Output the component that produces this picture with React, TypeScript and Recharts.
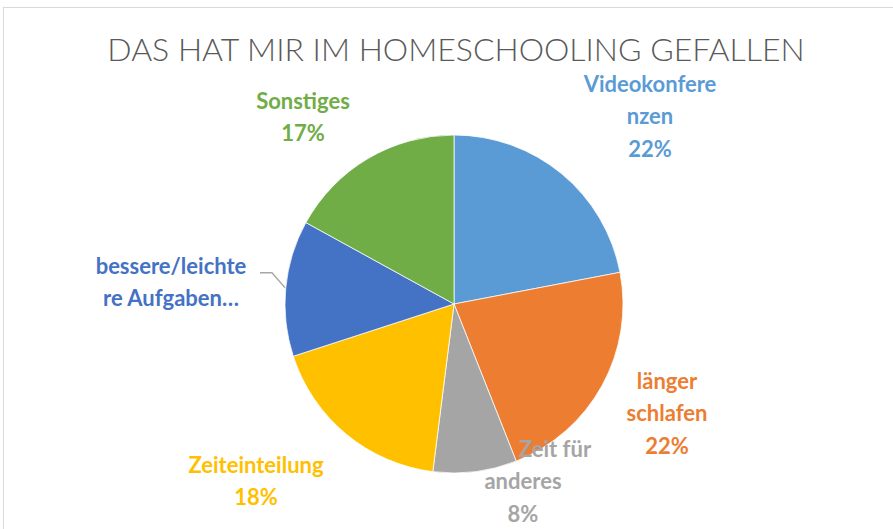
import React from 'react';
import { PieChart, Pie, Cell } from 'recharts';

const categories = [
  'Videokonferenzen',
  'länger schlafen',
  'Zeit für anderes',
  'Zeiteinteilung',
  'bessere/leichtere Aufgaben…',
  'Sonstiges',
];
const shares = [22, 22, 8, 18, 13, 17];
const labelLines = [
  ['Videokonfere', 'nzen'],
  ['länger', 'schlafen'],
  ['Zeit für', 'anderes'],
  ['Zeiteinteilung'],
  ['bessere/leichte', 're Aufgaben…'],
  ['Sonstiges'],
];
// the truncated label shows no percentage in the original
const showPercent = [true, true, true, true, false, true];
const colors = ['#5B9BD5', '#ED7D31', '#A5A5A5', '#FFC000', '#4472C4', '#70AD47'];

// where Excel put each label (centre of the text block, relative to pie centre)
const labelOffsets = [
  { dx: 196, dy: -189 },
  { dx: 213, dy: 108 },
  { dx: 69, dy: 176 },
  { dx: -198, dy: 176 },
  { dx: -283, dy: -23 },
  { dx: -151, dy: -188 },
];
// "Zeit für" sits off-centre in the original
const firstLineShift = [0, 0, 32, 0, 0, 0];

const data = categories.map((name, i) => ({ name, value: shares[i] }));

const LINE_H = 32.5;

const renderLabel = (props: any) => {
  const { cx, cy, index, percent } = props;
  const off = labelOffsets[index];
  const lines = showPercent[index]
    ? [...labelLines[index], `${Math.round(percent * 100)}%`]
    : labelLines[index];
  const x = cx + off.dx;
  const y0 = cy + off.dy - ((lines.length - 1) * LINE_H) / 2;
  return (
    <g key={`lbl-${index}`}>
      <text
        x={x}
        y={y0}
        textAnchor="middle"
        dominantBaseline="central"
        fill={colors[index]}
        fontFamily="Lato, 'Open Sans', sans-serif"
        fontWeight={700}
        fontSize={22}
      >
        {lines.map((l, j) => (
          <tspan key={j} x={x + (j === 0 ? firstLineShift[index] : 0)} y={y0 + j * LINE_H}>
            {l}
          </tspan>
        ))}
      </text>
      {index === 4 && (
        <polyline
          points={`${x + 89},${y0 + 8} ${x + 101},${y0 + 8} ${x + 114},${y0 + 23}`}
          fill="none"
          stroke="#A6A6A6"
          strokeWidth={1.3}
        />
      )}
    </g>
  );
};

export default function App() {
  return (
    <div
      style={{
        position: 'absolute',
        left: 0,
        top: 0,
        width: 893,
        height: 529,
        overflow: 'hidden',
        background: '#fff',
      }}
    >
      <style>{`.recharts-pie-sectors{filter:drop-shadow(0 0 3px rgba(0,0,0,0.3));}`}</style>
      <div
        style={{
          position: 'absolute',
          left: 3,
          top: 7,
          width: 920,
          height: 560,
          border: '1px solid #D9D9D9',
        }}
      />
      <div
        style={{
          position: 'absolute',
          left: 0,
          top: 31,
          width: 912,
          textAlign: 'center',
          fontFamily: "Lato, 'Open Sans', sans-serif",
          fontWeight: 300,
          fontSize: 32,
          color: '#595959',
          lineHeight: '36px',
        }}
      >
        DAS HAT MIR IM HOMESCHOOLING GEFALLEN
      </div>
      <PieChart
        width={893}
        height={529}
        margin={{ top: 0, right: 0, bottom: 0, left: 0 }}
        style={{ position: 'absolute', left: 0, top: 0 }}
      >
        <Pie
          data={data}
          dataKey="value"
          nameKey="name"
          cx={454}
          cy={304}
          outerRadius={169}
          startAngle={90}
          endAngle={-270}
          stroke="#FFFFFF"
          strokeWidth={0.75}
          labelLine={false}
          isAnimationActive={false}
        >
          {data.map((d, i) => (
            <Cell key={d.name} fill={colors[i]} />
          ))}
        </Pie>
        {/* second, invisible pie only carries the labels so they sit above every slice */}
        <Pie
          data={data}
          dataKey="value"
          nameKey="name"
          cx={454}
          cy={304}
          outerRadius={169}
          startAngle={90}
          endAngle={-270}
          fill="none"
          stroke="none"
          label={renderLabel}
          labelLine={false}
          isAnimationActive={false}
        />
      </PieChart>
    </div>
  );
}
